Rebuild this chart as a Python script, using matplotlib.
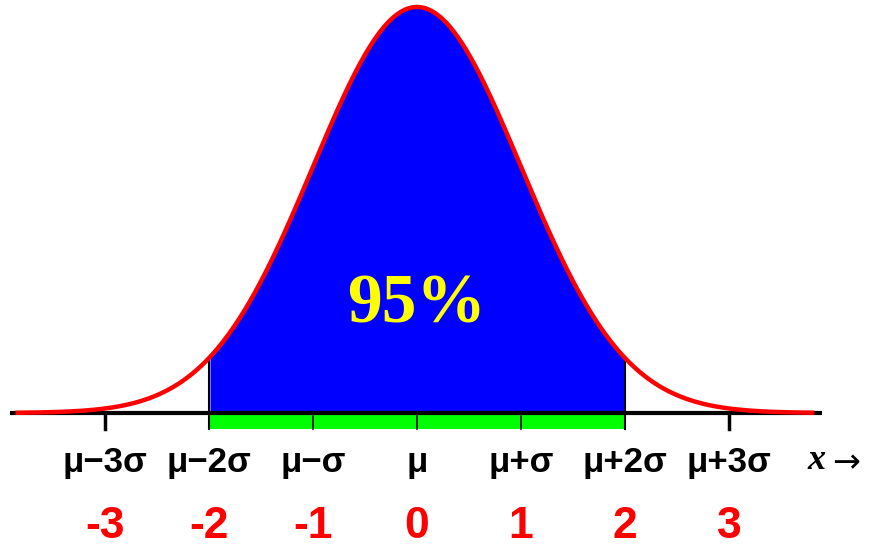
import matplotlib.pyplot as plt
import numpy as np

# tick positions (in sigma units) and their labels
sigma_ticks = [-3, -2, -1, 0, 1, 2, 3]
sym_labels = ['\u03bc\u22123\u03c3', '\u03bc\u22122\u03c3', '\u03bc\u2212\u03c3', '\u03bc',
              '\u03bc+\u03c3', '\u03bc+2\u03c3', '\u03bc+3\u03c3']
num_labels = ['-3', '-2', '-1', '0', '1', '2', '3']
shade_from, shade_to = -2, 2
shade_text = '95%'

x = np.linspace(-3.84, 3.80, 600)
pdf = np.exp(-x**2 / 2) / np.sqrt(2 * np.pi)

fig = plt.figure(figsize=(8.76, 5.5), dpi=100)
ax = fig.add_axes([0, 0, 1, 1])
ax.set_xlim(-417 / 104, (876 - 417) / 104)
ax.set_ylim(-137 / 1017.8, 413 / 1017.8)
ax.axis('off')

band = 16 / 1017.8

# blue shaded area
m = (x >= shade_from) & (x <= shade_to)
ax.fill_between(x[m], 0, pdf[m], color='#0000ff', lw=0, zorder=1)

# green band under the shaded part
ax.fill_between([shade_from, shade_to], -band, 0, color='#00ff00', lw=0, zorder=1)
for t in [-1, 0, 1]:
    ax.plot([t, t], [-band, 0], color='black', lw=1.2, zorder=2)
for t in [shade_from, shade_to]:
    ax.plot([t, t], [-band, np.exp(-t**2 / 2) / np.sqrt(2 * np.pi)], color='black', lw=1.5, zorder=2)
for t in [-3, 3]:
    ax.plot([t, t], [-band, 0], color='black', lw=2.5, zorder=2)

# axis line
ax.plot([-3.91, 3.89], [0, 0], color='black', lw=3, zorder=3, solid_capstyle='butt')

# curve
ax.plot(x, pdf, color='red', lw=3.2, zorder=4)

for t, s, n in zip(sigma_ticks, sym_labels, num_labels):
    ax.text(t, -0.049, s, ha='center', va='center', fontsize=25, fontweight='bold',
            family='Liberation Sans', color='black')
    ax.text(t, -0.112, n, ha='center', va='center', fontsize=32, fontweight='bold',
            family='Liberation Sans', color='red')

ax.text(3.84, -0.047, 'x', ha='center', va='center', fontsize=26, style='italic',
        family='Liberation Serif', fontweight='bold')
ax.text(4.13, -0.049, '\u2192', ha='center', va='center', fontsize=24, family='DejaVu Sans')

ax.text(0, 0.106, shade_text, ha='center', va='center', fontsize=50, fontweight='bold',
        family='Liberation Serif', color='#ffff00', zorder=5)

fig.savefig('out.png', dpi=100)
